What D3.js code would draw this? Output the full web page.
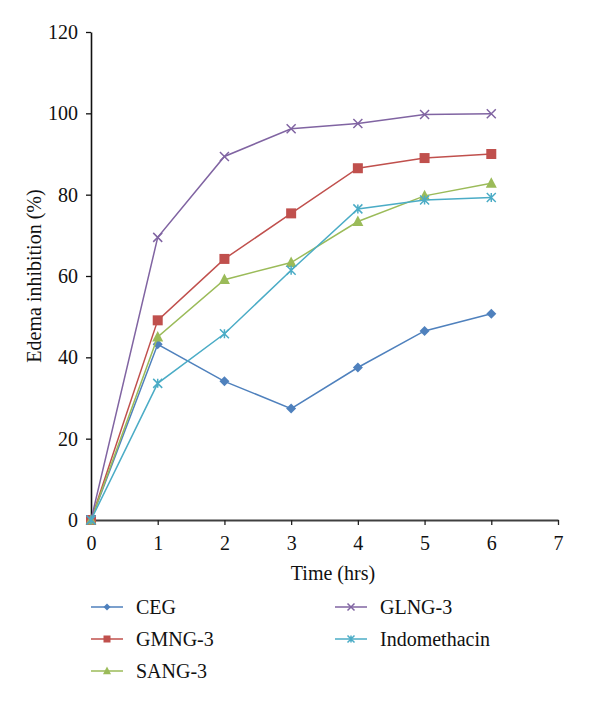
<!DOCTYPE html>
<html><head><meta charset="utf-8">
<script src="https://cdn.jsdelivr.net/npm/d3@7"></script>
<style>body{margin:0;background:#fff}svg{display:block}</style>
</head><body>
<svg id="c" width="600" height="703"></svg>
<script>
const times = [0, 1, 2, 3, 4, 5, 6];
const seriesNames = ["CEG", "GMNG-3", "SANG-3", "GLNG-3", "Indomethacin"];
const CEG = [0, 43.2, 34.1, 27.4, 37.5, 46.5, 50.7];
const GMNG3 = [0, 49.1, 64.2, 75.4, 86.5, 89.0, 90.0];
const SANG3 = [0, 45.0, 59.1, 63.3, 73.4, 79.7, 82.8];
const GLNG3 = [0, 69.5, 89.4, 96.2, 97.5, 99.7, 99.9];
const Indomethacin = [0, 33.6, 45.8, 61.4, 76.5, 78.7, 79.3];
const xTicks = [0, 1, 2, 3, 4, 5, 6, 7];
const yTicks = [0, 20, 40, 60, 80, 100, 120];

const colors = ["#4f81bd", "#c0504d", "#9bbb59", "#8064a2", "#4bacc6"];
const markers = ["diamond", "square", "triangle", "x", "star"];
const values = [CEG, GMNG3, SANG3, GLNG3, Indomethacin];

const svg = d3.select("#c");
const font = "'Liberation Serif', 'Times New Roman', serif";
const fs = 20;
const x = d3.scaleLinear().domain([0, 7]).range([91, 558]);
const y = d3.scaleLinear().domain([0, 120]).range([520, 32]);

// axes
const gx = svg.append("g").attr("transform", "translate(0,520)")
  .call(d3.axisBottom(x).tickValues(xTicks).tickSize(5).tickSizeOuter(0).tickFormat(d3.format("d")));
gx.select(".domain").attr("stroke", "#404040").attr("stroke-width", 2.2);
gx.selectAll(".tick line").attr("stroke", "#222").attr("stroke-width", 1.3);
gx.selectAll("text").attr("font-family", font).attr("font-size", fs).attr("fill", "#111").attr("dy", "0").attr("y", 30);

const gy = svg.append("g").attr("transform", "translate(91,0)")
  .call(d3.axisLeft(y).tickValues(yTicks).tickSize(5).tickSizeOuter(0).tickFormat(d3.format("d")));
gy.select(".domain").attr("stroke", "#111").attr("stroke-width", 1.6);
gy.selectAll(".tick line").attr("stroke", "#111").attr("stroke-width", 1.3);
gy.selectAll("text").attr("font-family", font).attr("font-size", fs).attr("fill", "#111").attr("x", -13).attr("dy", "0.33em");

svg.append("text").attr("x", 333).attr("y", 580).attr("text-anchor", "middle")
  .attr("font-family", font).attr("font-size", fs).attr("fill", "#111").text("Time (hrs)");
svg.append("text").attr("transform", "translate(41,276) rotate(-90)").attr("text-anchor", "middle")
  .attr("font-family", font).attr("font-size", fs).attr("fill", "#111").text("Edema inhibition (%)");

function drawMarker(g, type, cx, cy, color, s) {
  if (type === "diamond") {
    g.append("path").attr("d", `M${cx},${cy - s}L${cx + s},${cy}L${cx},${cy + s}L${cx - s},${cy}Z`).attr("fill", color);
  } else if (type === "square") {
    g.append("rect").attr("x", cx - s).attr("y", cy - s).attr("width", 2 * s).attr("height", 2 * s).attr("fill", color);
  } else if (type === "triangle") {
    g.append("path").attr("d", `M${cx},${cy - s * 1.1}L${cx + s},${cy + s * 0.8}L${cx - s},${cy + s * 0.8}Z`).attr("fill", color);
  } else if (type === "x") {
    g.append("path").attr("d", `M${cx - s},${cy - s}L${cx + s},${cy + s}M${cx - s},${cy + s}L${cx + s},${cy - s}`).attr("stroke", color).attr("stroke-width", 1.5);
  } else if (type === "star") {
    g.append("path").attr("d", `M${cx - s},${cy - s}L${cx + s},${cy + s}M${cx - s},${cy + s}L${cx + s},${cy - s}M${cx},${cy - s}L${cx},${cy + s}`).attr("stroke", color).attr("stroke-width", 1.5);
  }
}

const line = d3.line().x((d, i) => x(times[i])).y(d => y(d));
values.forEach((vals, k) => {
  const g = svg.append("g");
  g.append("path").datum(vals).attr("d", line).attr("fill", "none").attr("stroke", colors[k]).attr("stroke-width", 1.5);
  const sizes = {diamond: 5, square: 5, triangle: 5.5, x: 4.5, star: 4.5};
  vals.forEach((v, i) => drawMarker(g, markers[k], x(times[i]), y(v), colors[k], sizes[markers[k]]));
});

// legend
const legPos = [[91, 607], [91, 639], [91, 671], [335, 607], [335, 639]];
seriesNames.forEach((name, k) => {
  const [lx, ly] = legPos[k];
  const g = svg.append("g");
  g.append("line").attr("x1", lx).attr("x2", lx + 32).attr("y1", ly).attr("y2", ly).attr("stroke", colors[k]).attr("stroke-width", 1.5);
  const ls = {diamond: 3.5, square: 3.5, triangle: 4, x: 3.5, star: 3.5};
  drawMarker(g, markers[k], lx + 16, ly, colors[k], ls[markers[k]]);
  g.append("text").attr("x", lx + 45).attr("y", ly).attr("dy", "0.33em")
    .attr("font-family", font).attr("font-size", fs).attr("fill", "#111").text(name);
});
</script>
</body></html>
